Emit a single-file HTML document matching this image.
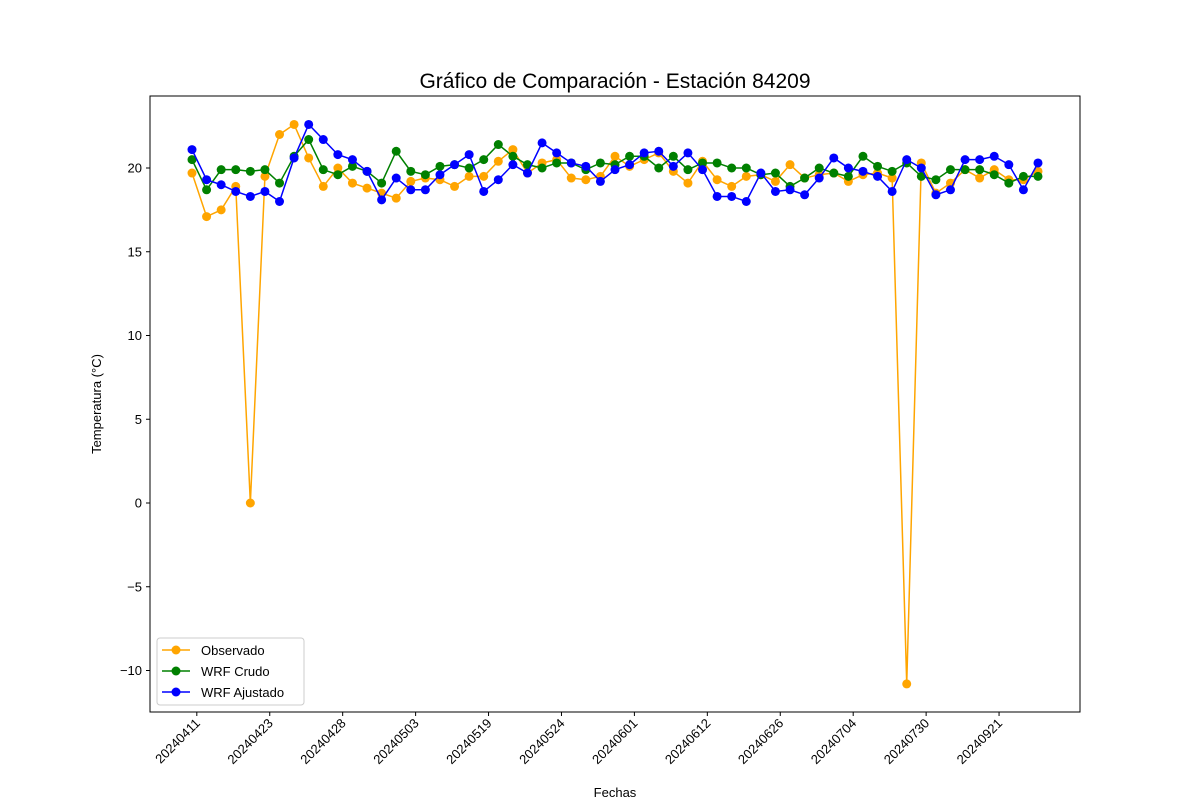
<!DOCTYPE html>
<html><head><meta charset="utf-8"><style>
body{margin:0;background:#fff;}
svg{display:block;font-family:"Liberation Sans","DejaVu Sans",sans-serif;}
</style></head><body>
<svg id="chart" width="1200" height="800">
<text x="615" y="88" text-anchor="middle" font-size="21" fill="#000">Gráfico de Comparación - Estación 84209</text>
<g id="plot"></g>
<text x="615" y="797" text-anchor="middle" font-size="13">Fechas</text>
<text transform="translate(101,404) rotate(-90)" text-anchor="middle" font-size="13">Temperatura (°C)</text>
<g>
<rect x="157" y="638" width="147" height="67" rx="3" fill="#fff" stroke="#ccc"/>
<g><line x1="162" x2="190" y1="650" y2="650" stroke="orange" stroke-width="1.5"/><circle cx="176" cy="650" r="4.5" fill="orange"/><text x="201" y="655" font-size="13">Observado</text></g>
<g><line x1="162" x2="190" y1="671" y2="671" stroke="green" stroke-width="1.5"/><circle cx="176" cy="671" r="4.5" fill="green"/><text x="201" y="676" font-size="13">WRF Crudo</text></g>
<g><line x1="162" x2="190" y1="692" y2="692" stroke="blue" stroke-width="1.5"/><circle cx="176" cy="692" r="4.5" fill="blue"/><text x="201" y="697" font-size="13">WRF Ajustado</text></g>
</g>
</svg>
<script>
const tickLabels=["20240411","20240423","20240428","20240503","20240519","20240524","20240601","20240612","20240626","20240704","20240730","20240921"];
const yTicks=[-10,-5,0,5,10,15,20];
const observado=[19.7,17.1,17.5,18.9,0,19.5,22.0,22.6,20.6,18.9,20.0,19.1,18.8,18.5,18.2,19.2,19.4,19.3,18.9,19.5,19.5,20.4,21.1,19.7,20.3,20.5,19.4,19.3,19.5,20.7,20.1,20.5,20.9,19.8,19.1,20.4,19.3,18.9,19.5,19.6,19.2,20.2,19.4,19.6,19.7,19.2,19.6,19.7,19.4,-10.8,20.3,18.5,19.1,19.9,19.4,19.9,19.3,19.3,19.8];
const wrfCrudo=[20.5,18.7,19.9,19.9,19.8,19.9,19.1,20.7,21.7,19.9,19.6,20.1,19.8,19.1,21.0,19.8,19.6,20.1,20.2,20.0,20.5,21.4,20.7,20.2,20.0,20.3,20.3,19.9,20.3,20.2,20.7,20.7,20.0,20.7,19.9,20.3,20.3,20.0,20.0,19.6,19.7,18.9,19.4,20.0,19.7,19.5,20.7,20.1,19.8,20.3,19.5,19.3,19.9,19.9,19.9,19.6,19.1,19.5,19.5];
const wrfAjustado=[21.1,19.3,19.0,18.6,18.3,18.6,18.0,20.6,22.6,21.7,20.8,20.5,19.8,18.1,19.4,18.7,18.7,19.6,20.2,20.8,18.6,19.3,20.2,19.7,21.5,20.9,20.3,20.1,19.2,19.9,20.2,20.9,21.0,20.1,20.9,19.9,18.3,18.3,18.0,19.7,18.6,18.7,18.4,19.4,20.6,20.0,19.8,19.5,18.6,20.5,20.0,18.4,18.7,20.5,20.5,20.7,20.2,18.7,20.3];
const NS="http://www.w3.org/2000/svg";
const X0=150,X1=1080,Y0=96,Y1=712;
function xs(i){return 192+(1038-192)*i/(observado.length-1);}
function ys(v){return 503-16.75*v;}
const g=document.getElementById('plot');
function mk(t,a){const e=document.createElementNS(NS,t);for(const k in a)e.setAttribute(k,a[k]);g.appendChild(e);return e;}
const frame=mk('rect',{x:X0,y:Y0,width:X1-X0,height:Y1-Y0,fill:'none',stroke:'#000','stroke-width':1});


yTicks.forEach(v=>{
 const y=ys(v);
 const l=mk('line',{x1:X0-4,x2:X0,y1:y,y2:y,stroke:'#000'});
 
 
 const t=mk('text',{x:X0-8,y:y+4.5,'text-anchor':'end','font-size':13});
 t.textContent=v<0?'\u2212'+Math.abs(v):String(v);
 
 
});
tickLabels.forEach((s,k)=>{
 const x=xs(5*k+0.33);
 const l=mk('line',{x1:x,x2:x,y1:Y1,y2:Y1+4,stroke:'#000'});
 
 
 const t=mk('text',{transform:`translate(${x+4},${Y1+12}) rotate(-45)`,'text-anchor':'end','font-size':13});
 t.textContent=s;
 
 
});
function series(arr,color,name){
 const pl=mk('polyline',{points:arr.map((v,i)=>xs(i)+','+ys(v)).join(' '),fill:'none',stroke:color,'stroke-width':1.5});
 
 
 arr.forEach((v,i)=>{
  const c=mk('circle',{cx:xs(i),cy:ys(v),r:4.5,fill:color});
  
  
 });
}
series(observado,'orange','observado');
series(wrfCrudo,'green','wrf-crudo');
series(wrfAjustado,'blue','wrf-ajustado');
</script>
</body></html>
